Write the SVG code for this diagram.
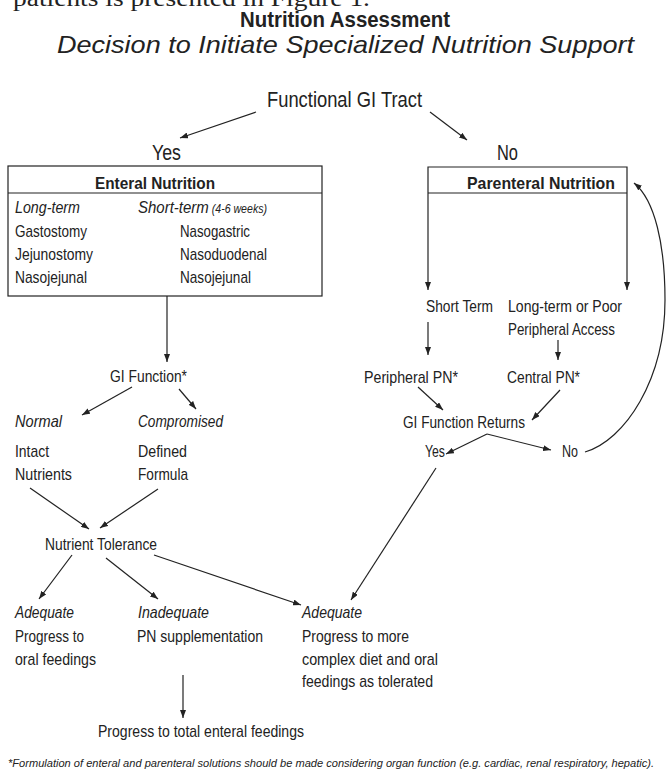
<svg xmlns="http://www.w3.org/2000/svg" width="667" height="782" viewBox="0 0 667 782">
<defs>
<marker id="ah" markerWidth="8" markerHeight="6" refX="8" refY="3" orient="auto" markerUnits="userSpaceOnUse">
<path d="M0,0 L8,3 L0,6 z" fill="#222"/>
</marker>
<style>
text{font-family:"Liberation Sans Narrow","Liberation Sans",Arial,sans-serif;fill:#222;font-size:17px}
.b{font-weight:bold}
.i{font-style:italic}
.lg{font-size:22px}
.c{stroke:#222;stroke-width:1.2;fill:none;marker-end:url(#ah)}
.ln{stroke:#222;stroke-width:1.2;fill:none}
</style>
</defs>
<rect width="667" height="782" fill="#fff"/>
<g id="header">
<text x="13" y="6" style="font-family:'Liberation Serif',serif;font-size:24px" textLength="357" lengthAdjust="spacingAndGlyphs">patients is presented in Figure 1.</text>
<text class="b" x="240" y="27" style="font-size:22px" textLength="210" lengthAdjust="spacingAndGlyphs">Nutrition Assessment</text>
<text class="i" x="57" y="53" style="font-family:'Liberation Sans',Arial,sans-serif;font-size:24px" textLength="577" lengthAdjust="spacingAndGlyphs">Decision to Initiate Specialized Nutrition Support</text>
</g>
<g id="connectors">
<line class="c" x1="256" y1="112" x2="180" y2="138"/>
<line class="c" x1="430" y1="112" x2="467" y2="140"/>
<line class="c" x1="167" y1="296" x2="167" y2="362"/>
<line class="c" x1="132" y1="387" x2="82" y2="415"/>
<line class="c" x1="179" y1="389" x2="196" y2="409"/>
<line class="c" x1="30" y1="488" x2="89" y2="529"/>
<line class="c" x1="158" y1="489" x2="100" y2="528"/>
<line class="c" x1="72" y1="555" x2="39" y2="599"/>
<line class="c" x1="106" y1="558" x2="158" y2="599"/>
<line class="c" x1="154" y1="555" x2="301" y2="605"/>
<line class="c" x1="183" y1="675" x2="183" y2="718"/>
<line class="c" x1="428" y1="193" x2="428" y2="290"/>
<line class="c" x1="627" y1="193" x2="627" y2="290"/>
<line class="c" x1="428" y1="322" x2="428" y2="355"/>
<line class="c" x1="558" y1="340" x2="558" y2="360"/>
<line class="c" x1="418" y1="387" x2="443" y2="410"/>
<line class="c" x1="560" y1="390" x2="532" y2="420"/>
<line class="c" x1="487" y1="434" x2="446" y2="454"/>
<line class="c" x1="487" y1="434" x2="551" y2="450"/>
<line class="c" x1="436" y1="468" x2="351" y2="600"/>
<path class="c" d="M585,452 C625,440 665,380 665,300 C665,245 655,200 634,183"/>
</g>
<g id="functional-gi">
<text class="lg" x="267" y="107" textLength="155" lengthAdjust="spacingAndGlyphs">Functional GI Tract</text>
</g>
<g id="yes-top"><text class="lg" x="152" y="160" textLength="29" lengthAdjust="spacingAndGlyphs">Yes</text></g>
<g id="no-top"><text class="lg" x="497" y="160" textLength="21" lengthAdjust="spacingAndGlyphs">No</text></g>
<g id="enteral">
<rect class="ln" x="8" y="166" width="314" height="130"/>
<line class="ln" x1="8" y1="193" x2="322" y2="193"/>
<text class="b" x="95" y="189" textLength="120" lengthAdjust="spacingAndGlyphs">Enteral Nutrition</text>
<text class="i" x="15" y="213" textLength="65" lengthAdjust="spacingAndGlyphs">Long-term</text>
<text class="i" x="138" y="213" textLength="129" lengthAdjust="spacingAndGlyphs">Short-term<tspan style="font-size:12px"> (4-6 weeks)</tspan></text>
<text x="15" y="237" textLength="72" lengthAdjust="spacingAndGlyphs">Gastostomy</text>
<text x="180" y="237" textLength="70" lengthAdjust="spacingAndGlyphs">Nasogastric</text>
<text x="15" y="260" textLength="78" lengthAdjust="spacingAndGlyphs">Jejunostomy</text>
<text x="180" y="260" textLength="87" lengthAdjust="spacingAndGlyphs">Nasoduodenal</text>
<text x="15" y="283" textLength="72" lengthAdjust="spacingAndGlyphs">Nasojejunal</text>
<text x="180" y="283" textLength="71" lengthAdjust="spacingAndGlyphs">Nasojejunal</text>
</g>
<g id="parenteral">
<path class="ln" d="M428,193 L428,167 L627,167 L627,193"/>
<line class="ln" x1="428" y1="193" x2="627" y2="193"/>
<text class="b" x="467" y="189" textLength="148" lengthAdjust="spacingAndGlyphs">Parenteral Nutrition</text>
</g>
<g id="gi-function"><text x="110" y="382" textLength="77" lengthAdjust="spacingAndGlyphs">GI Function*</text></g>
<g id="normal">
<text class="i" x="15" y="427" textLength="47" lengthAdjust="spacingAndGlyphs">Normal</text>
<text x="15" y="457" textLength="34" lengthAdjust="spacingAndGlyphs">Intact</text>
<text x="15" y="480" textLength="57" lengthAdjust="spacingAndGlyphs">Nutrients</text>
</g>
<g id="compromised">
<text class="i" x="138" y="427" textLength="85" lengthAdjust="spacingAndGlyphs">Compromised</text>
<text x="138" y="457" textLength="49" lengthAdjust="spacingAndGlyphs">Defined</text>
<text x="138" y="480" textLength="50" lengthAdjust="spacingAndGlyphs">Formula</text>
</g>
<g id="nutrient-tolerance"><text x="45" y="550" textLength="112" lengthAdjust="spacingAndGlyphs">Nutrient Tolerance</text></g>
<g id="adequate-left">
<text class="i" x="15" y="618" textLength="59" lengthAdjust="spacingAndGlyphs">Adequate</text>
<text x="15" y="642" textLength="69" lengthAdjust="spacingAndGlyphs">Progress to</text>
<text x="15" y="665" textLength="81" lengthAdjust="spacingAndGlyphs">oral feedings</text>
</g>
<g id="inadequate">
<text class="i" x="138" y="618" textLength="71" lengthAdjust="spacingAndGlyphs">Inadequate</text>
<text x="137" y="642" textLength="126" lengthAdjust="spacingAndGlyphs">PN supplementation</text>
</g>
<g id="adequate-right">
<text class="i" x="302" y="618" textLength="60" lengthAdjust="spacingAndGlyphs">Adequate</text>
<text x="302" y="642" textLength="107" lengthAdjust="spacingAndGlyphs">Progress to more</text>
<text x="302" y="665" textLength="136" lengthAdjust="spacingAndGlyphs">complex diet and oral</text>
<text x="302" y="687" textLength="131" lengthAdjust="spacingAndGlyphs">feedings as tolerated</text>
</g>
<g id="total-enteral"><text x="98" y="737" textLength="206" lengthAdjust="spacingAndGlyphs">Progress to total enteral feedings</text></g>
<g id="short-term"><text x="426" y="312" textLength="67" lengthAdjust="spacingAndGlyphs">Short Term</text></g>
<g id="long-term">
<text x="508" y="312" textLength="114" lengthAdjust="spacingAndGlyphs">Long-term or Poor</text>
<text x="508" y="335" textLength="107" lengthAdjust="spacingAndGlyphs">Peripheral Access</text>
</g>
<g id="peripheral-pn"><text x="364" y="383" textLength="94" lengthAdjust="spacingAndGlyphs">Peripheral PN*</text></g>
<g id="central-pn"><text x="507" y="383" textLength="73" lengthAdjust="spacingAndGlyphs">Central PN*</text></g>
<g id="gi-returns"><text x="403" y="428" textLength="122" lengthAdjust="spacingAndGlyphs">GI Function Returns</text></g>
<g id="yes-returns"><text x="425" y="457" textLength="20" lengthAdjust="spacingAndGlyphs">Yes</text></g>
<g id="no-returns"><text x="562" y="457" textLength="16" lengthAdjust="spacingAndGlyphs">No</text></g>
<g id="footnote"><text class="i" x="8" y="767" style="font-size:11.5px" textLength="646" lengthAdjust="spacingAndGlyphs">*Formulation of enteral and parenteral solutions should be made considering organ function (e.g. cardiac, renal respiratory, hepatic).</text></g>
</svg>
